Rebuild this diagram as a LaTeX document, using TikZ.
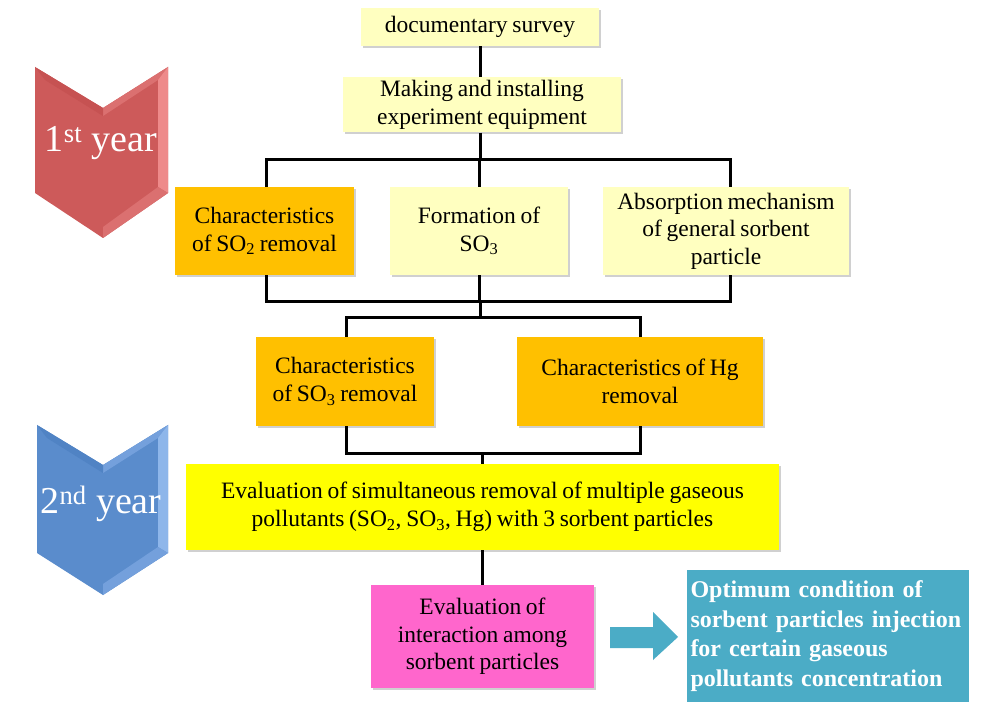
\documentclass[tikz,border=0pt]{standalone}
\usepackage{fontspec}
\setmainfont{Liberation Serif}
\usetikzlibrary{shadows}
\definecolor{lyel}{HTML}{FFFFC0}
\definecolor{orng}{HTML}{FFC000}
\definecolor{yel}{HTML}{FFFF00}
\definecolor{pnk}{HTML}{FF66CC}
\definecolor{tealc}{HTML}{4BACC6}
\definecolor{redface}{HTML}{CD5A5A}
\definecolor{redlight}{HTML}{EE8A8A}
\definecolor{redmid}{HTML}{DB7070}
\definecolor{rededge}{HTML}{C65252}
\definecolor{blueface}{HTML}{5A8CCC}
\definecolor{bluelight}{HTML}{8EB6EA}
\definecolor{bluemid}{HTML}{74A0DC}
\definecolor{blueedge}{HTML}{5083C4}
\newcommand\myboxfont{\fontsize{23.5}{27.5}\selectfont\spaceskip=0.2em plus 0.05em minus 0.05em\relax}
\tikzset{
  box/.style={draw=none, inner sep=0pt, align=center, font=\myboxfont,
    drop shadow={shadow xshift=2pt, shadow yshift=-2pt, opacity=0.3, fill=black!60}},
  conn/.style={line width=3pt, black},
  yeartext/.style={text=white, font=\fontsize{38}{40}\selectfont, inner sep=0pt}
}
\begin{document}
\begin{tikzpicture}[x=1pt,y=-1pt]
\useasboundingbox (0,0) rectangle (989,711);
\fill[white] (0,0) rectangle (989,711);

% chevrons
\fill[redface] (35,67) -- (103,108) -- (168,67) -- (168,193) -- (103,238) -- (35,193) -- cycle;
\fill[redmid] (103,108) -- (168,67) -- (158,80) -- (103,116) -- cycle;
\fill[redlight] (168,67) -- (168,193) -- (158,187) -- (158,80) -- cycle;
\fill[redmid] (168,193) -- (103,238) -- (103,227) -- (158,187) -- cycle;
\fill[rededge] (35,67) -- (103,108) -- (103,116) -- (45,80) -- cycle;
\node[yeartext] (y1) at (101,143) {1\textsuperscript{st} year};

\fill[blueface] (37,425) -- (103,465) -- (168,425) -- (168,553) -- (103,595) -- (37,553) -- cycle;
\fill[bluemid] (103,465) -- (168,425) -- (158,438) -- (103,473) -- cycle;
\fill[bluelight] (168,425) -- (168,553) -- (158,547) -- (158,438) -- cycle;
\fill[bluemid] (168,553) -- (103,595) -- (103,584) -- (158,547) -- cycle;
\fill[blueedge] (37,425) -- (103,465) -- (103,473) -- (47,438) -- cycle;
\node[yeartext] (y2) at (101,504) {2\textsuperscript{nd} year};

% boxes
\node[box, fill=lyel, minimum width=238pt, minimum height=38pt] (doc) at (480,27) {documentary survey};
\node[box, fill=lyel, minimum width=278pt, minimum height=55pt] (make) at (482,105) {Making and installing\\experiment equipment};
\node[box, fill=orng, minimum width=179pt, minimum height=88pt] (so2) at (264.5,231) {Characteristics\\of SO\textsubscript{2} removal};
\node[box, fill=lyel, minimum width=178pt, minimum height=88pt] (form) at (479,231) {Formation of\\SO\textsubscript{3}};
\node[box, fill=lyel, minimum width=246pt, minimum height=88pt] (abs) at (726,231) {Absorption mechanism\\of general sorbent\\particle};
\node[box, fill=orng, minimum width=178pt, minimum height=89pt] (so3r) at (345,381.5) {Characteristics\\of SO\textsubscript{3} removal};
\node[box, fill=orng, minimum width=246pt, minimum height=89pt] (hgr) at (640,381.5) {Characteristics of Hg\\removal};
\node[box, fill=yel, minimum width=593pt, minimum height=86pt] (eval) at (482.5,507) {Evaluation of simultaneous removal of multiple gaseous\\pollutants (SO\textsubscript{2}, SO\textsubscript{3}, Hg) with 3 sorbent particles};
\node[box, fill=pnk, minimum width=223pt, minimum height=103pt] (inter) at (482.5,636.5) {Evaluation of\\interaction among\\sorbent particles};
\node[draw=none, fill=tealc, inner sep=0pt, minimum width=282pt, minimum height=132pt, text width=274pt, align=left,
  text=white, font=\bfseries\fontsize{24}{29.5}\selectfont] (opt) at (827.5,636) {Optimum condition of\\sorbent particles injection\\for certain gaseous\\pollutants concentration};

% block arrow
\fill[tealc] (610,627) -- (653,627) -- (653,612) -- (678,637) -- (653,660) -- (653,648) -- (610,648) -- cycle;

% connectors
\coordinate (b1) at (480,160);
\coordinate (b2) at (480,302);
\coordinate (b3) at (480,318);
\coordinate (b4) at (482.5,454);
\draw[conn] (doc.south -| 480,0) -- (make.north -| 480,0);
\draw[conn] (make.south -| 480,0) -- (b1);
\draw[conn] ([xshift=2pt]so2.north) |- (b1) -| ([xshift=4pt]abs.north);
\draw[conn] (form.north) -- (form.north |- b1);
\draw[conn] ([xshift=2pt]so2.south) |- (b2) -| ([xshift=4pt]abs.south);
\draw[conn] (form.south) -- (form.south |- b2);
\draw[conn] (b2) -- (b3);
\draw[conn] ([xshift=1pt]so3r.north) |- (b3) -| (hgr.north);
\draw[conn] ([xshift=1pt]so3r.south) |- (b4) -| (hgr.south);
\draw[conn] (b4) -- (eval.north);
\draw[conn] (eval.south) -- (inter.north);
\end{tikzpicture}
\end{document}
